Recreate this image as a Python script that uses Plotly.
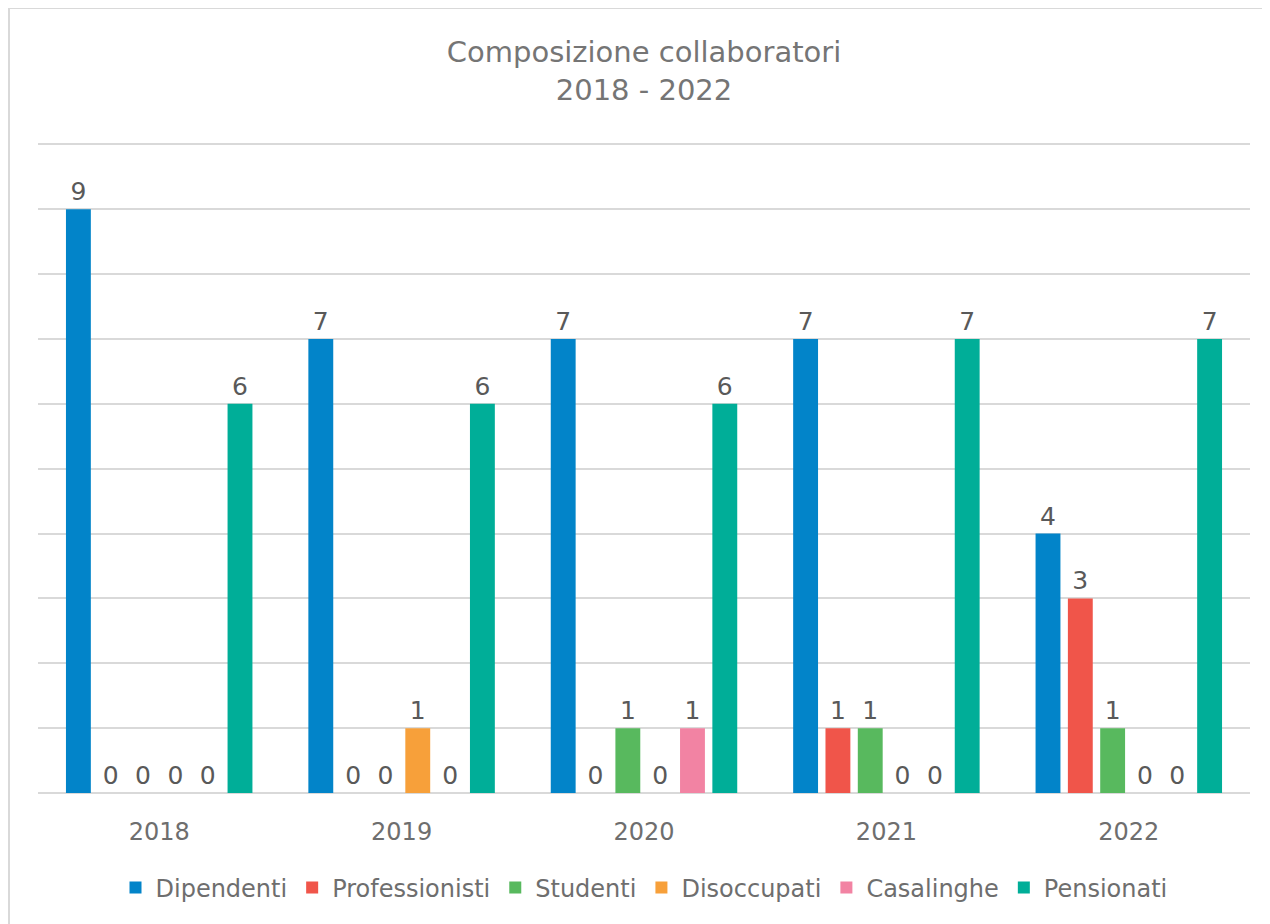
import plotly.graph_objects as go

# Composition of collaborators by year
years = ["2018", "2019", "2020", "2021", "2022"]
dipendenti = [9, 7, 7, 7, 4]
professionisti = [0, 0, 0, 1, 3]
studenti = [0, 0, 1, 1, 1]
disoccupati = [0, 1, 0, 0, 0]
casalinghe = [0, 0, 1, 0, 0]
pensionati = [6, 6, 6, 7, 7]

series = [
    ("Dipendenti", dipendenti, "#0284C9"),
    ("Professionisti", professionisti, "#F0554A"),
    ("Studenti", studenti, "#58B95E"),
    ("Disoccupati", disoccupati, "#F7A03A"),
    ("Casalinghe", casalinghe, "#F283A3"),
    ("Pensionati", pensionati, "#00AE98"),
]

FONT = "DejaVu Sans, Verdana, sans-serif"
GRID = "#D9D9D9"

fig = go.Figure()
for name, values, color in series:
    fig.add_trace(
        go.Bar(
            x=years,
            y=values,
            name=name,
            marker=dict(color=color, line=dict(width=0)),
            text=values,
            textposition="outside",
            textfont=dict(family=FONT, size=25, color="#595959"),
            cliponaxis=False,
        )
    )

# page is drawn with an 8px body offset, so margins compensate for it
fig.update_layout(
    width=1270,
    height=924,
    paper_bgcolor="white",
    plot_bgcolor="white",
    font=dict(family=FONT, size=24, color="#6E6E6E"),
    title=dict(
        text="Composizione collaboratori<br>2018 - 2022",
        x=0.5,
        xref="paper",
        xanchor="center",
        y=1 - 54 / 924,
        yanchor="middle",
        font=dict(family=FONT, size=29, color="#757575"),
    ),
    margin=dict(l=30, r=28, t=135, b=139),
    barmode="group",
    bargap=0.2,
    bargroupgap=0.23,
    showlegend=True,
    legend=dict(
        orientation="h",
        x=0.5,
        xanchor="center",
        y=-0.146,
        yanchor="middle",
        font=dict(family=FONT, size=24, color="#6E6E6E"),
        itemclick=False,
    ),
    xaxis=dict(
        showgrid=False,
        showline=False,
        ticks="outside",
        ticklen=17,
        tickcolor="rgba(0,0,0,0)",
        tickfont=dict(family=FONT, size=24, color="#6E6E6E"),
    ),
    yaxis=dict(
        range=[0, 10.02],
        dtick=1,
        showticklabels=False,
        showgrid=True,
        gridcolor=GRID,
        gridwidth=2,
        zeroline=True,
        zerolinecolor=GRID,
        zerolinewidth=2,
        fixedrange=True,
    ),
    shapes=[
        dict(
            type="rect",
            xref="paper",
            yref="paper",
            x0=(9 - 38) / 1212,
            x1=1.2,
            y0=-0.4,
            y1=(793 - 8) / 650,
            line=dict(color=GRID, width=2),
            fillcolor="rgba(0,0,0,0)",
            layer="below",
        )
    ],
)

fig.write_html("out.html")
